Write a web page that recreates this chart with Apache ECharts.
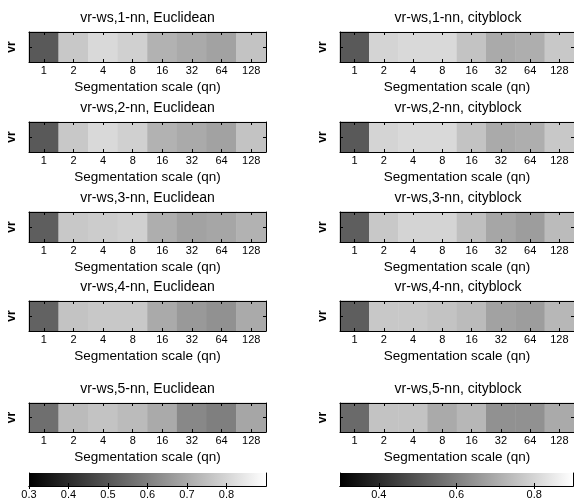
<!DOCTYPE html>
<html>
<head>
<meta charset="utf-8">
<script src="https://cdn.jsdelivr.net/npm/echarts@6/dist/echarts.min.js"></script>
<style>
html,body{margin:0;padding:0;background:#fff;}
#chart{width:574px;height:501px;}
</style>
</head>
<body>
<div id="chart"></div>
<script>
// ---- data ----
const qnLabels = ['1', '2', '4', '8', '16', '32', '64', '128'];
const yLabel = ['vr'];
const xName = 'Segmentation scale (qn)';
const titlesEuc = ['vr-ws,1-nn, Euclidean', 'vr-ws,2-nn, Euclidean', 'vr-ws,3-nn, Euclidean', 'vr-ws,4-nn, Euclidean', 'vr-ws,5-nn, Euclidean'];
const titlesCity = ['vr-ws,1-nn, cityblock', 'vr-ws,2-nn, cityblock', 'vr-ws,3-nn, cityblock', 'vr-ws,4-nn, cityblock', 'vr-ws,5-nn, cityblock'];
const euc1 = [0.51, 0.77, 0.81, 0.79, 0.72, 0.70, 0.68, 0.76];
const euc2 = [0.51, 0.77, 0.81, 0.79, 0.72, 0.70, 0.68, 0.76];
const euc3 = [0.52, 0.77, 0.78, 0.79, 0.71, 0.68, 0.69, 0.72];
const euc4 = [0.53, 0.76, 0.77, 0.77, 0.70, 0.66, 0.64, 0.70];
const euc5 = [0.56, 0.74, 0.76, 0.74, 0.70, 0.62, 0.60, 0.69];
const city1 = [0.51, 0.80, 0.81, 0.81, 0.76, 0.70, 0.71, 0.77];
const city2 = [0.51, 0.80, 0.81, 0.81, 0.76, 0.70, 0.71, 0.77];
const city3 = [0.52, 0.77, 0.80, 0.80, 0.75, 0.69, 0.67, 0.74];
const city4 = [0.52, 0.77, 0.77, 0.76, 0.74, 0.68, 0.67, 0.73];
const city5 = [0.55, 0.76, 0.76, 0.70, 0.73, 0.64, 0.64, 0.70];
const colorRange = [0.3, 0.9];
const cbTicksLeft = [0.3, 0.4, 0.5, 0.6, 0.7, 0.8];
const cbTicksRight = [0.4, 0.6, 0.8];

// ---- layout ----
const FONT = '"Liberation Sans", Arial, Helvetica, sans-serif';
const colLeft = [29, 340];
const colWidth = [237, 236];
const rowTop = [32, 122, 212, 301, 403];
const rowH = [30, 30, 30, 30, 29];
const panels = [
  [euc1, city1], [euc2, city2], [euc3, city3], [euc4, city4], [euc5, city5]
];
const titles = [titlesEuc, titlesCity];

const grid = [], xAxis = [], yAxis = [], series = [], title = [];
const heatIdx = [];
let k = 0;
for (let r = 0; r < 5; r++) {
  for (let c = 0; c < 2; c++) {
    grid.push({left: colLeft[c], top: rowTop[r], width: colWidth[c], height: rowH[r], containLabel: false});
    const tick = {show: true, inside: true, length: 3, alignWithLabel: true, lineStyle: {color: '#000', width: 1}};
    const line = {show: true, lineStyle: {color: '#000', width: 1}};
    xAxis.push({type: 'category', gridIndex: k, data: qnLabels, position: 'bottom', z: 5,
      axisLine: line, axisTick: tick,
      axisLabel: {show: true, interval: 0, margin: 3, fontSize: 11, color: '#000', fontFamily: FONT},
      name: xName, nameLocation: 'middle', nameGap: 18,
      nameTextStyle: {fontSize: 13.5, color: '#000', fontFamily: FONT},
      splitLine: {show: false}});
    xAxis.push({type: 'category', gridIndex: k, data: qnLabels, position: 'top', z: 5,
      axisLine: line, axisTick: tick, axisLabel: {show: false}, splitLine: {show: false}});
    yAxis.push({type: 'category', gridIndex: k, data: yLabel, position: 'left', z: 5,
      axisLine: line, axisTick: tick,
      axisLabel: {show: true, rotate: 90, margin: 11, fontSize: 12, fontWeight: 'bold', color: '#000', fontFamily: FONT},
      splitLine: {show: false}});
    yAxis.push({type: 'category', gridIndex: k, data: yLabel, position: 'right', z: 5,
      axisLine: line, axisTick: tick, axisLabel: {show: false}, splitLine: {show: false}});
    const vals = panels[r][c];
    series.push({type: 'heatmap', xAxisIndex: 2 * k, yAxisIndex: 2 * k,
      data: vals.map((v, i) => [i, 0, v]),
      emphasis: {disabled: true}, progressive: 0});
    heatIdx.push(series.length - 1);
    title.push({text: titles[c][r], left: colLeft[c] + colWidth[c] / 2, top: rowTop[r] - 21,
      textAlign: 'center', padding: 0,
      textStyle: {fontSize: 14, fontWeight: 'normal', color: '#000', fontFamily: FONT}});
    k++;
  }
}

// colorbars
const cbTop = 473, cbH = 13;
const cbTicks = [cbTicksLeft, cbTicksRight];
const cbWidth = [237, 233];
for (let c = 0; c < 2; c++) {
  grid.push({left: colLeft[c], top: cbTop, width: cbWidth[c], height: cbH, show: true, borderWidth: 0,
    backgroundColor: {type: 'linear', x: 0, y: 0, x2: 1, y2: 0,
      colorStops: [{offset: 0, color: '#000'}, {offset: 1, color: '#fff'}]}});
  const tick = {show: true, inside: true, length: 3, customValues: cbTicks[c], lineStyle: {color: '#000', width: 1}};
  const line = {show: true, lineStyle: {color: '#000', width: 1}};
  xAxis.push({type: 'value', gridIndex: k, min: colorRange[0], max: colorRange[1], position: 'bottom', z: 5,
    axisLine: line, axisTick: tick,
    axisLabel: {show: true, customValues: cbTicks[c], margin: 3, fontSize: 11, color: '#000', fontFamily: FONT,
      formatter: v => v.toFixed(1)},
    splitLine: {show: false}});
  xAxis.push({type: 'value', gridIndex: k, min: colorRange[0], max: colorRange[1], position: 'top', z: 5,
    axisLine: line, axisTick: tick, axisLabel: {show: false}, splitLine: {show: false}});
  yAxis.push({type: 'value', gridIndex: k, min: 0, max: 1, position: 'left', z: 5,
    axisLine: line, axisTick: {show: false}, axisLabel: {show: false}, splitLine: {show: false}});
  yAxis.push({type: 'value', gridIndex: k, min: 0, max: 1, position: 'right', z: 5,
    axisLine: line, axisTick: {show: false}, axisLabel: {show: false}, splitLine: {show: false}});
  series.push({type: 'scatter', xAxisIndex: 2 * k, yAxisIndex: 2 * k, data: [], silent: true});
  k++;
}

const chart = echarts.init(document.getElementById('chart'), null, {renderer: 'canvas'});
chart.setOption({
  animation: false,
  backgroundColor: '#fff',
  textStyle: {fontFamily: FONT},
  title: title,
  grid: grid,
  xAxis: xAxis,
  yAxis: yAxis,
  visualMap: {type: 'continuous', show: false, min: colorRange[0], max: colorRange[1],
    seriesIndex: heatIdx, inRange: {color: ['#000000', '#ffffff']}},
  series: series
});
</script>
</body>
</html>
